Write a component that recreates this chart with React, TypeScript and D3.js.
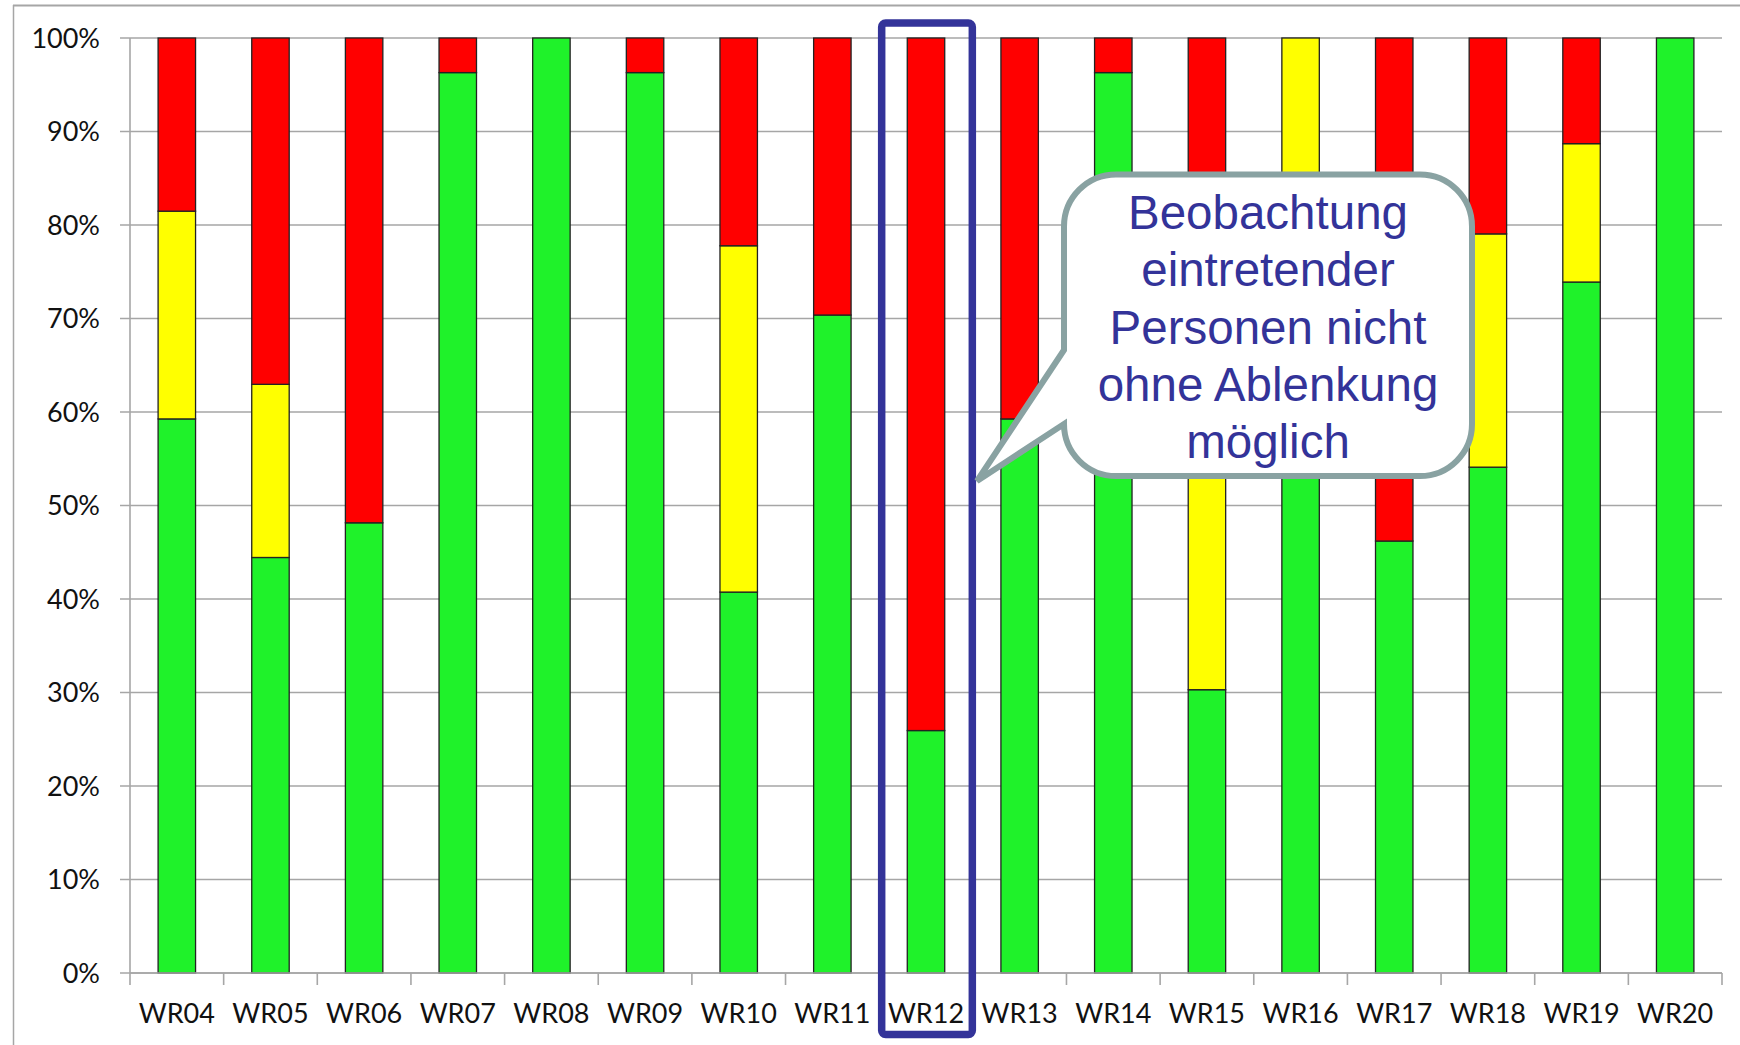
import React from "react";
import * as d3 from "d3";

const categories = ["WR04","WR05","WR06","WR07","WR08","WR09","WR10","WR11","WR12","WR13","WR14","WR15","WR16","WR17","WR18","WR19","WR20"];
const greenValues = [59.26, 44.44, 48.15, 96.3, 100, 96.3, 40.74, 70.37, 25.93, 59.26, 96.3, 30.3, 63.0, 46.2, 54.1, 73.9, 100];
const yellowValues = [22.22, 18.52, 0, 0, 0, 0, 37.04, 0, 0, 0, 0, 42.4, 37.0, 0, 24.95, 14.8, 0];
const redValues = categories.map((_, i) => Math.max(0, 100 - greenValues[i] - yellowValues[i]));
const yTicks = [0, 10, 20, 30, 40, 50, 60, 70, 80, 90, 100];
const seriesColors = ["#1ff22a", "#ffff00", "#ff0000"];
const calloutLines = ["Beobachtung", "eintretender", "Personen nicht", "ohne Ablenkung", "möglich"];
const highlighted = "WR12";

export default function App() {
  const W = 1740, H = 1045;
  const left = 130, right = 1722, top = 38, bottom = 973;
  const x = d3.scaleBand<string>().domain(categories).range([left, right]).paddingInner(0.6).paddingOuter(0.3);
  const step = x.step();
  const y = d3.scaleLinear().domain([0, 100]).range([bottom, top]);

  const rows = categories.map((c, i) => ({ cat: c, g: greenValues[i], yl: yellowValues[i], r: redValues[i] }));
  const stack = d3.stack<any>().keys(["g", "yl", "r"])(rows);

  const bandStart = (c: string) => (x(c) as number) - step * 0.3;

  // callout geometry
  const cx0 = 1064, cx1 = 1472, cy0 = 174.5, cy1 = 476, r = 52;
  const tip: [number, number] = [977, 481];
  const callout = `M${cx0 + r},${cy0} L${cx1 - r},${cy0} A${r},${r} 0 0 1 ${cx1},${cy0 + r} L${cx1},${cy1 - r} A${r},${r} 0 0 1 ${cx1 - r},${cy1} L${cx0 + r},${cy1} A${r},${r} 0 0 1 ${cx0},${cy1 - r} L${tip[0]},${tip[1]} L${cx0},${350} L${cx0},${cy0 + r} A${r},${r} 0 0 1 ${cx0 + r},${cy0} Z`;

  const hx = bandStart(highlighted);

  return (
    <svg width={W} height={H} style={{ position: "absolute", left: 0, top: 0, display: "block", background: "#fff" }}>
      <rect x={0} y={0} width={W} height={H} fill="#fff" />
      {/* frame */}
      <line x1={13} y1={5.5} x2={W} y2={5.5} stroke="#a6a6a6" strokeWidth={2} />
      <line x1={13.5} y1={5} x2={13.5} y2={H} stroke="#a6a6a6" strokeWidth={1.5} />
      {/* gridlines */}
      {yTicks.map(t => (
        <line key={t} x1={left - 10} x2={right} y1={y(t)} y2={y(t)} stroke="#a6a6a6" strokeWidth={1.6} />
      ))}
      {/* bars */}
      {stack.map((s, si) => (
        <g key={si}>
          {s.map((d, i) => d[1] - d[0] > 0 ? (
            <rect key={i} x={x(categories[i])} width={x.bandwidth()} y={y(d[1])} height={y(d[0]) - y(d[1])}
              fill={seriesColors[si]} stroke="#222" strokeWidth={1.3} />
          ) : null)}
        </g>
      ))}
      {/* axes */}
      <line x1={left} x2={left} y1={top} y2={bottom} stroke="#a6a6a6" strokeWidth={1.6} />
      <line x1={left} x2={right} y1={bottom} y2={bottom} stroke="#a6a6a6" strokeWidth={1.6} />
      {categories.concat(["__end"]).map((c, i) => {
        const xx = left + step * i;
        return <line key={c} x1={xx} x2={xx} y1={bottom} y2={bottom + 12} stroke="#a6a6a6" strokeWidth={1.6} />;
      })}
      {yTicks.map(t => (
        <text key={t} x={100} y={y(t) + 9.7} textAnchor="end" fontFamily="Lato, sans-serif" fontSize={27} fill="#111">{t}%</text>
      ))}
      {categories.map(c => (
        <text key={c} x={(x(c) as number) + x.bandwidth() / 2} y={1023} textAnchor="middle" fontFamily="Lato, sans-serif" fontSize={27} fill="#111">{c}</text>
      ))}
      {/* highlight rectangle */}
      <rect x={hx + 2.5} y={23} width={step - 3} height={1011.5} rx={4} fill="none" stroke="#333399" strokeWidth={7.5} />
      {/* callout */}
      <path d={callout} fill="#fff" stroke="#89a2a2" strokeWidth={6} strokeLinejoin="miter" />
      {calloutLines.map((l, i) => (
        <text key={i} x={(cx0 + cx1) / 2} y={229 + i * 57.3} textAnchor="middle" fontFamily="'Liberation Sans', Arial, sans-serif" fontSize={47.5} fill="#333399">{l}</text>
      ))}
    </svg>
  );
}
